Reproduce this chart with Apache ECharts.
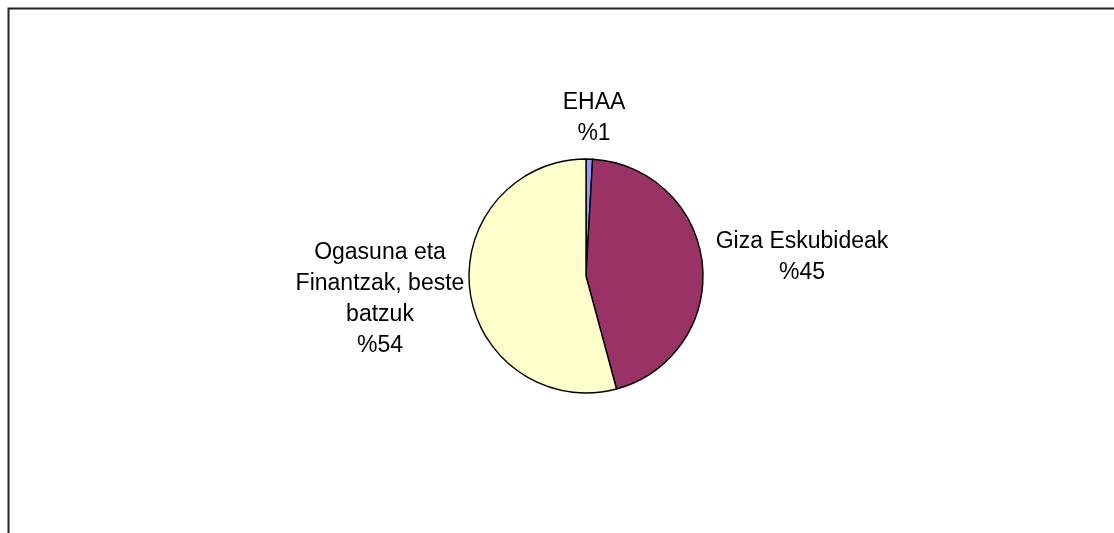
<!DOCTYPE html>
<html>
<head>
<meta charset="utf-8">
<script src="https://cdn.jsdelivr.net/npm/echarts@6/dist/echarts.min.js"></script>
<style>
  html, body { margin: 0; padding: 0; background: #fff; }
  #main { width: 1114px; height: 533px; }
</style>
</head>
<body>
<div id="main"></div>
<script>
// slices, clockwise from 12 o'clock
const names = ['EHAA', 'Giza Eskubideak', 'Ogasuna eta\nFinantzak, beste\nbatzuk'];
const values = [0.9, 44.9, 54.2];
const colors = ['#9999FF', '#993366', '#FFFFCC'];

// where each label sits (centre of the text block)
const labelPos = [
    { x: 594, y: 118 },
    { x: 802, y: 257 },
    { x: 380, y: 299 }
];

const chart = echarts.init(document.getElementById('main'), null, { renderer: 'canvas' });

const option = {
    animation: false,
    backgroundColor: '#fff',
    graphic: [{
        type: 'rect',
        shape: { x: 8.5, y: 8.5, width: 1130, height: 560 },
        style: { fill: 'none', stroke: '#222', lineWidth: 2 },
        silent: true
    }],
    series: [{
        type: 'pie',
        center: [586, 276],
        radius: 117,
        startAngle: 90,
        clockwise: true,
        percentPrecision: 0,
        itemStyle: {
            borderColor: '#000',
            borderWidth: 1.4
        },
        label: {
            show: true,
            position: 'outside',
            formatter: p => p.name + '\n%' + p.percent,
            fontFamily: 'Liberation Sans, Arial, sans-serif',
            fontSize: 23,
            lineHeight: 31,
            color: '#000',
            align: 'center'
        },
        labelLine: { show: false },
        labelLayout: params => {
            const pos = labelPos[params.dataIndex];
            return {
                x: pos.x,
                y: pos.y,
                align: 'center',
                verticalAlign: 'middle'
            };
        },
        emphasis: { disabled: true },
        data: names.map((n, i) => ({
            name: n,
            value: values[i],
            itemStyle: { color: colors[i] }
        }))
    }]
};

chart.setOption(option);
</script>
</body>
</html>
